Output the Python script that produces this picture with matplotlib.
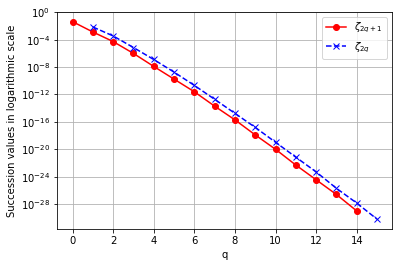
import numpy as np
import matplotlib
matplotlib.use('Agg')
import matplotlib.pyplot as plt

# exponents (value = 10**exp)
q_odd = list(range(0, 15))
exp_odd = [-1.36, -2.87, -4.27, -6.0, -7.9, -9.75, -11.6, -13.7, -15.7,
           -17.9, -20.0, -22.3, -24.45, -26.6, -29.0]

q_even = list(range(1, 16))
exp_even = [-2.14, -3.45, -5.14, -6.89, -8.73, -10.67, -12.7, -14.75, -16.8,
            -18.97, -21.15, -23.3, -25.7, -27.85, -30.2]

y_odd = 10.0 ** np.array(exp_odd)
y_even = 10.0 ** np.array(exp_even)

fig = plt.figure(figsize=(399 / 72, 267 / 72), dpi=72)
ax = fig.add_subplot(111)
fig.subplots_adjust(left=0.1436, right=0.983, top=0.956, bottom=0.1423)

ax.semilogy(q_odd, y_odd, 'ro-', label=r'$\zeta_{2q+1}$')
ax.semilogy(q_even, y_even, 'bx--', label=r'$\zeta_{2q}$')

ax.set_yticks([10.0 ** (-4 * k) for k in range(8)])
ax.minorticks_off()
ax.set_xlabel('q')
ax.set_ylabel('Succession values in logarithmic scale')
ax.grid(True)
ax.legend(loc='upper right')

fig.savefig('out.png', dpi=72)
